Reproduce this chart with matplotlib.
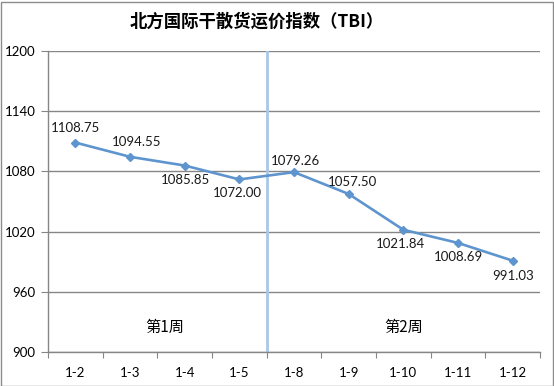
import matplotlib
matplotlib.use("Agg")
import matplotlib.pyplot as plt
from matplotlib.patches import Rectangle

categories = ["1-2", "1-3", "1-4", "1-5", "1-8", "1-9", "1-10", "1-11", "1-12"]
values = [1108.75, 1094.55, 1085.85, 1072.00, 1079.26, 1057.50, 1021.84, 1008.69, 991.03]
value_labels = ["1108.75", "1094.55", "1085.85", "1072.00", "1079.26", "1057.50", "1021.84", "1008.69", "991.03"]
y_ticks = [900, 960, 1020, 1080, 1140, 1200]
title = "北方国际干散货运价指数（TBI）"
week_labels = ["第1周", "第2周"]

# label offsets in pixels (style/position, not data)
label_offsets = [(0, 15), (7, 15), (1, -14), (-2, -14), (1, 11), (4, 12), (-3, -14), (0, -14), (0, -15)]

plt.rcParams['font.family'] = ['Lato', 'Noto Sans CJK SC', 'DejaVu Sans']

fig = plt.figure(figsize=(5.54, 3.86), dpi=100)
ax = fig.add_axes([48/554, 34/386, 492/554, 301/386])

grid_c = "#868686"
line_c = "#5F95CE"
x = list(range(len(categories)))

for t in y_ticks:
    ax.axhline(t, color=grid_c, lw=1, zorder=1)

ax.axvline(3.5, color="#A9C8E6", lw=2, zorder=2)

ax.plot(x, values, color=line_c, lw=1.9, marker="D", markersize=4, zorder=3)

for xi, v, lab, off in zip(x, values, value_labels, label_offsets):
    ax.annotate(lab, (xi, v), xytext=off, textcoords="offset pixels",
                ha="center", va="center", fontsize=9.5, color="#1a1a1a")

ax.text(1.64, 925, week_labels[0], ha="center", va="center", fontsize=11,
        family=['Noto Sans CJK SC', 'DejaVu Sans'])
ax.text(6.0, 925, week_labels[1], ha="center", va="center", fontsize=11,
        family=['Noto Sans CJK SC', 'DejaVu Sans'])

ax.set_xlim(-0.5, len(categories) - 0.5)
ax.set_ylim(900, 1200)
ax.set_yticks(y_ticks)
ax.set_yticklabels([str(t) for t in y_ticks], fontsize=9.5)
ax.set_xticks([i - 0.5 for i in range(len(categories) + 1)])
ax.set_xticklabels([])
ax.set_xticks(x, minor=True)
ax.set_xticklabels(categories, minor=True, fontsize=9.5)
ax.tick_params(axis="x", which="major", length=4, color=grid_c, direction="out")
ax.tick_params(axis="x", which="minor", length=0, pad=11)
ax.tick_params(axis="y", length=5, color=grid_c, pad=4)

for s in ["top", "right"]:
    ax.spines[s].set_visible(False)
for s in ["left", "bottom"]:
    ax.spines[s].set_color(grid_c)
    ax.spines[s].set_linewidth(1)

fig.text(257/554, 1 - 22/386, title, ha="center", va="center", fontsize=12.5,
         fontweight="bold", family=['Noto Sans CJK SC', 'DejaVu Sans'])

fig.patches.append(Rectangle((0.5/554, 0.5/386), 552/554, 384/386, transform=fig.transFigure,
                             fill=False, edgecolor="#8c8c8c", lw=1))

fig.savefig("out.png", dpi=100)
